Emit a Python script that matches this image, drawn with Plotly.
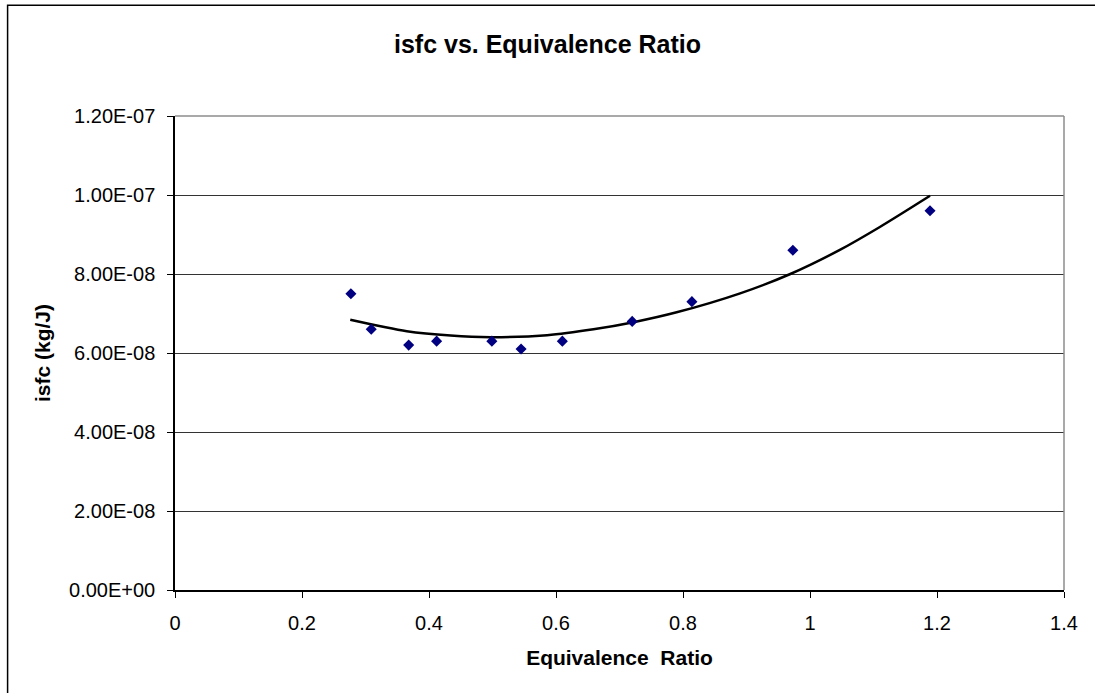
import plotly.graph_objects as go

# Data
phi = [0.277, 0.309, 0.368, 0.412, 0.499, 0.545, 0.610, 0.720, 0.814, 0.973, 1.189]
isfc = [7.5e-08, 6.6e-08, 6.2e-08, 6.3e-08, 6.3e-08, 6.1e-08, 6.3e-08, 6.8e-08, 7.3e-08, 8.6e-08, 9.6e-08]

# Trendline (polynomial)
trend_x = [0.276, 0.365, 0.434, 0.497, 0.586, 0.659, 0.722, 0.790, 0.890, 0.969, 1.047, 1.110, 1.189]
trend_y = [6.84e-08, 6.55e-08, 6.44e-08, 6.40e-08, 6.45e-08, 6.60e-08, 6.78e-08, 7.03e-08,
           7.51e-08, 8.00e-08, 8.61e-08, 9.19e-08, 9.98e-08]

y_tickvals = [0, 2e-08, 4e-08, 6e-08, 8e-08, 1e-07, 1.2e-07]
y_ticktext = ["0.00E+00", "2.00E-08", "4.00E-08", "6.00E-08", "8.00E-08", "1.00E-07", "1.20E-07"]
x_tickvals = [0, 0.2, 0.4, 0.6, 0.8, 1, 1.2, 1.4]
x_ticktext = ["0", "0.2", "0.4", "0.6", "0.8", "1", "1.2", "1.4"]

FONT = "Liberation Sans, Arial, sans-serif"

W, H = 1095, 693
ML, MR, MT, MB = 174.5, 31, 115.7, 103
PW, PH = W - ML - MR, H - MT - MB

fig = go.Figure()
fig.add_trace(go.Scatter(
    x=trend_x, y=trend_y, mode="lines",
    line=dict(color="black", width=2.5, shape="spline", smoothing=0.8),
    hoverinfo="skip", showlegend=False,
))
fig.add_trace(go.Scatter(
    x=phi, y=isfc, mode="markers",
    marker=dict(symbol="diamond", color="#000080", size=8.5, line=dict(width=0)),
    showlegend=False,
))

fig.update_layout(
    width=W, height=H,
    margin=dict(l=ML, r=MR, t=MT, b=MB),
    paper_bgcolor="white", plot_bgcolor="white",
    font=dict(family=FONT, color="black"),
    title=dict(
        text="<b>isfc vs. Equivalence Ratio</b>",
        x=0.5, xref="container", xanchor="center",
        y=1 - 44 / H, yref="container", yanchor="middle",
        font=dict(size=25, family=FONT, color="black"),
    ),
    shapes=[
        # outer chart border (only top and left visible)
        dict(type="rect", xref="paper", yref="paper",
             x0=(7 - ML) / PW, x1=1.2,
             y0=-0.5, y1=1 + (MT - 5) / PH,
             line=dict(color="black", width=1.5), fillcolor="rgba(0,0,0,0)", layer="below"),
        # gray plot-area border at top and right
        dict(type="line", xref="paper", yref="paper", x0=0, x1=1, y0=1, y1=1,
             line=dict(color="#8c8c8c", width=1.5)),
        dict(type="line", xref="paper", yref="paper", x0=1, x1=1, y0=0, y1=1,
             line=dict(color="#8c8c8c", width=1.5)),
    ],
)

fig.update_xaxes(
    range=[0, 1.4], tickvals=x_tickvals, ticktext=x_ticktext,
    showgrid=False, zeroline=False,
    showline=True, linecolor="black", linewidth=1.5,
    ticks="outside", ticklen=6, tickcolor="black", tickwidth=1,
    ticklabelstandoff=8,
    tickfont=dict(size=20, family=FONT, color="black"),
    title=dict(text="<b>Equivalence  Ratio</b>", font=dict(size=21, family=FONT, color="black"), standoff=18),
)
fig.update_yaxes(
    range=[0, 1.2e-07], tickvals=y_tickvals, ticktext=y_ticktext,
    showgrid=True, gridcolor="#333333", gridwidth=1,
    zeroline=False,
    showline=True, linecolor="black", linewidth=1.5,
    ticks="outside", ticklen=6, tickcolor="black", tickwidth=1,
    ticklabelstandoff=8,
    tickfont=dict(size=20, family=FONT, color="black"),
    title=dict(text="<b>isfc (kg/J)</b>", font=dict(size=21, family=FONT, color="black"), standoff=13),
)

fig.write_html(
    "out.html",
    config={"displayModeBar": False},
    post_script="document.body.style.margin='0px';document.body.style.overflow='hidden';",
)
